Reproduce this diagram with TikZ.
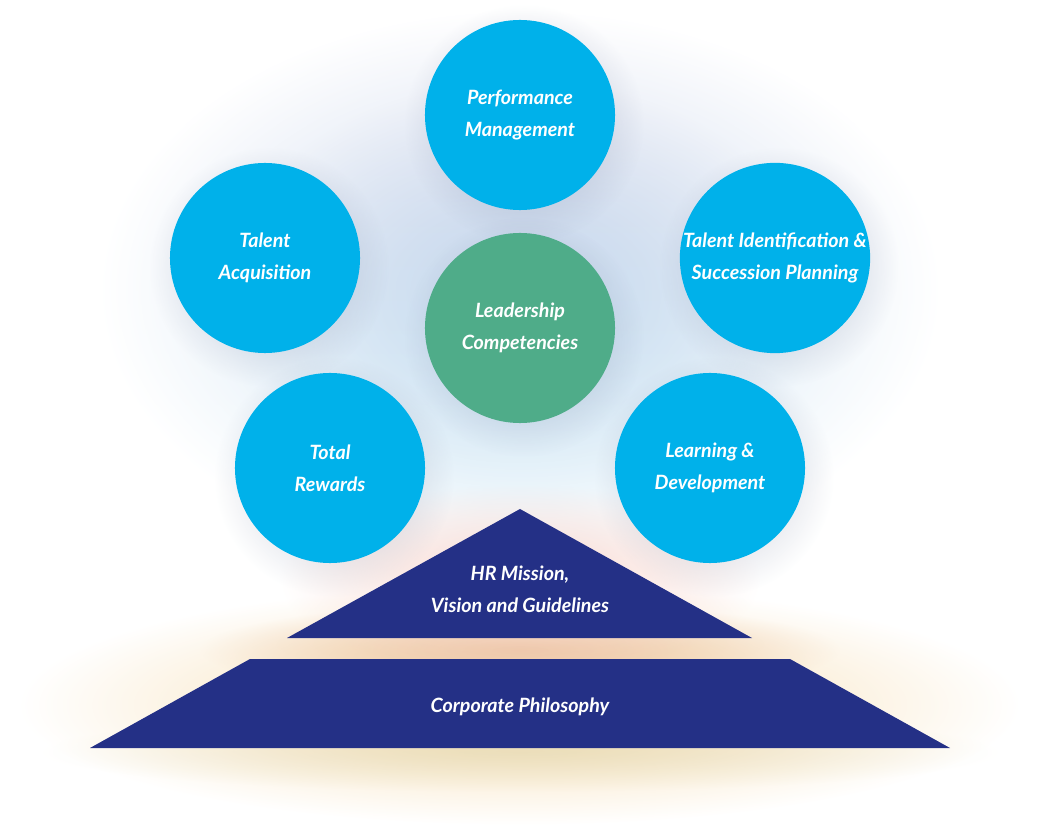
\documentclass[tikz,border=0pt]{standalone}
\usepackage{fontspec}
\setmainfont{Lato}
\usetikzlibrary{positioning,fadings}
\definecolor{bubble}{RGB}{0,177,234}
\definecolor{leaf}{RGB}{79,172,137}
\definecolor{navy}{RGB}{36,48,134}
\definecolor{haze}{RGB}{200,208,232}
\definecolor{mist}{RGB}{200,230,245}
\definecolor{glow}{RGB}{246,218,170}
\definecolor{peach}{RGB}{236,196,160}
\definecolor{blush}{RGB}{248,214,206}
\definecolor{sand}{RGB}{226,216,176}
\definecolor{dusk}{RGB}{120,130,160}
\tikzfading[name=soft, inner color=transparent!0, outer color=transparent!100]

\begin{document}
\begin{tikzpicture}[
    x=0.025cm,y=-0.025cm,
    lbl/.style={text=white,align=center,
      font=\fontsize{14}{22.8}\selectfont\bfseries\itshape},
    disc/.style={lbl,circle,minimum size=4.75cm,inner sep=0pt},
    halo/.style={dusk,fill opacity=0.45,path fading=soft}
  ]
  \useasboundingbox (0,0) rectangle (1040,839);

  % soft glow behind everything
  \shade[top color=haze,bottom color=mist,path fading=soft]
    (520,290) ellipse [x radius=10.5cm,y radius=7cm];
  \shade[top color=haze,bottom color=mist,path fading=soft,opacity=0.7]
    (520,300) ellipse [x radius=7.5cm,y radius=5.5cm];
  \fill[glow,path fading=soft] (520,705) ellipse [x radius=12.5cm,y radius=3cm];
  \fill[peach,path fading=soft] (520,650) ellipse [x radius=8cm,y radius=1.2cm];
  \fill[sand,path fading=soft,fill opacity=0.6] (520,752) ellipse [x radius=12cm,y radius=1cm];
  \fill[blush,path fading=soft] (520,580) ellipse [x radius=6cm,y radius=2.4cm];

  \coordinate (perf-c) at (520,115);
  \coordinate (acq-c) at (265,258);
  \coordinate (ident-c) at (775,258);
  \coordinate (rew-c) at (330,468);
  \coordinate (learn-c) at (710,468);
  \coordinate (lead-c) at (520,328);

  % shadows
  \foreach \c in {perf-c,acq-c,ident-c,rew-c,learn-c,lead-c}
    \fill[halo] ([shift={(4,9)}]\c) circle [radius=3.0cm];

  % outer ring
  \node[disc,fill=bubble] (perf) at (perf-c) {Performance\\Management};
  \node[disc,fill=bubble] (acq) at (acq-c) {Talent\\Acquisition};
  \node[disc,fill=bubble] (ident) at (ident-c) {Talent Identification \&\\Succession Planning};
  \node[disc,fill=bubble] (rew) at (rew-c) {Total\\Rewards};
  \node[disc,fill=bubble] (learn) at (learn-c) {Learning \&\\Development};
  \node[disc,fill=leaf] (lead) at (lead-c) {Leadership\\Competencies};

  % base
  \fill[navy] (520,509) -- (752,638) -- (287,638) -- cycle;
  \node[lbl] (mission) at (520,589) {HR Mission,\\Vision and Guidelines};
  \fill[navy] (250,659) -- (790,659) -- (950,748) -- (90,748) -- cycle;
  \node[lbl] (philo) at (520,707) {Corporate Philosophy};
\end{tikzpicture}
\end{document}
